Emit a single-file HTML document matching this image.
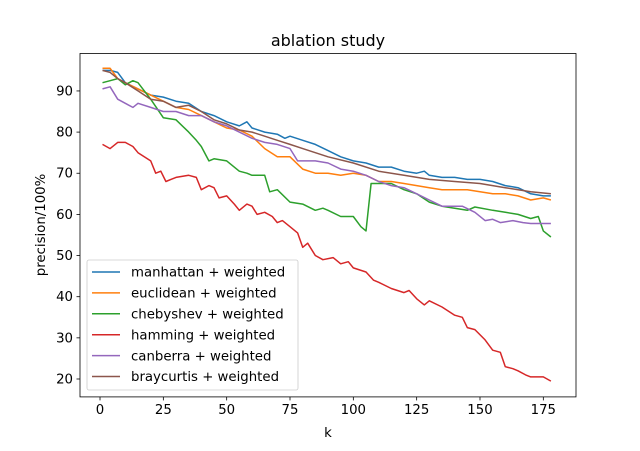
<!DOCTYPE html>
<html><head><meta charset="utf-8"><style>
body{margin:0;background:#fff}
svg text{font-family:"DejaVu Sans","Liberation Sans",sans-serif;fill:#000}
</style></head><body>
<svg id="chart" width="640" height="446" xmlns="http://www.w3.org/2000/svg">
<rect width="640" height="446" fill="#fff"/>
<g id="plot"></g>
</svg>
<script>
const xTicks=[0,25,50,75,100,125,150,175];
const yTicks=[20,30,40,50,60,70,80,90];
const seriesNames=["manhattan + weighted","euclidean + weighted","chebyshev + weighted","hamming + weighted","canberra + weighted","braycurtis + weighted"];
const colors=["#1f77b4","#ff7f0e","#2ca02c","#d62728","#9467bd","#8c564b"];
const kManhattan=[1,4,7,10,15,20,25,30,35,40,45,50,55,58,60,65,70,73,75,80,85,90,95,100,105,110,115,120,125,128,130,135,140,145,150,155,160,165,170,175,178];
const vManhattan=[95,95,94.5,92,90.5,89,88.5,87.5,87,85,84,82.5,81.5,82.5,81,80,79.5,78.5,79,78,77,75.5,74,73,72.5,71.5,71.5,70.5,70,70.5,69.5,69,69,68.5,68.5,68,67,66.5,65,64.5,64.5];
const kEuclidean=[1,4,7,10,15,20,25,30,35,40,45,50,55,60,65,70,75,80,85,90,95,100,105,110,115,120,125,130,135,140,145,150,155,160,165,170,175,178];
const vEuclidean=[95.5,95.5,93,92,90.5,89,87.5,86,85.5,84,82.5,81,80.5,79,76,74,74,71,70,70,69.5,70,69.5,68,68,67.5,67,66.5,66,66,66,65.5,65,65,64.5,63.5,64,63.5];
const kChebyshev=[1,4,7,10,13,15,20,25,30,35,38,40,43,45,50,55,58,60,65,67,70,75,80,85,88,90,95,100,103,105,107,110,115,120,125,130,135,140,145,148,155,160,165,170,173,175,178];
const vChebyshev=[92,92.5,93,91.5,92.5,92,88,83.5,83,80,78,76.5,73,73.5,73,70.5,70,69.5,69.5,65.5,66,63,62.5,61,61.5,61,59.5,59.5,57,56,67.5,67.5,67.5,66,65,63,62,61.5,61,61.8,61,60.5,60,59,59.5,56,54.5];
const kHamming=[1,4,7,10,13,15,20,22,24,26,28,30,35,38,40,43,45,47,50,53,55,58,60,62,65,68,70,72,75,78,80,82,85,88,92,95,98,100,105,108,110,115,120,122,125,128,130,135,140,143,145,148,152,155,158,160,163,165,168,170,173,175,178];
const vHamming=[77,76,77.5,77.5,76.5,75,73,70,70.5,68,68.5,69,69.5,69,66,67,66.5,64,64.5,62.5,61,62.5,62,60,60.5,59.5,58,58.5,57,55.5,52,53,50,49,49.5,48,48.5,47,46,44,43.5,42,41,41.5,39.5,38,39,37.5,35.5,35,32.5,32,29.5,27,26.5,23,22.5,22,21,20.5,20.5,20.5,19.5];
const kCanberra=[1,4,7,10,13,15,20,25,30,35,40,45,50,55,60,65,70,75,78,85,90,95,100,105,110,115,120,125,130,135,140,143,148,152,155,158,163,167,170,178];
const vCanberra=[90.5,91,88,87,86,87,86,85,85,84,84,82.5,81.5,80,78.5,77.5,77,76,73,73,72.5,71,70.5,69.5,68,67,66.5,65,63.5,62,62,62,60.5,58.5,58.8,58,58.5,58,57.8,57.8];
const kBraycurtis=[1,4,7,10,15,20,25,30,35,40,45,50,55,60,65,70,75,80,90,100,110,120,130,140,150,160,170,178];
const vBraycurtis=[95,94.5,93,92,90,88,87.5,86,86.5,85,83,82,80.5,80,79,78,77,76,74,72.5,70.5,69.5,68.5,68,67.5,66.5,65.5,65];
const allK=[kManhattan,kEuclidean,kChebyshev,kHamming,kCanberra,kBraycurtis];
const allV=[vManhattan,vEuclidean,vChebyshev,vHamming,vCanberra,vBraycurtis];

const L=80,R=576,T=53.5,B=396.9;
const xMin=-7.9,xMax=187.9,yMin=15.65,yMax=99.1;
const sx=v=>L+(v-xMin)/(xMax-xMin)*(R-L);
const sy=v=>B-(v-yMin)/(yMax-yMin)*(B-T);
const NS="http://www.w3.org/2000/svg";
const g=document.getElementById('plot');
function mk(t,a,p){const e=document.createElementNS(NS,t);for(const k in a)e.setAttribute(k,a[k]);(p||g).appendChild(e);return e;}

// series
allK.forEach((ks,i)=>{
  const d=ks.map((k,j)=>(j?'L':'M')+sx(k).toFixed(1)+' '+sy(allV[i][j]).toFixed(1)).join(' ');
  const p=mk('path',{d:d,fill:'none',stroke:colors[i],'stroke-width':1.5,'stroke-linejoin':'round'});
  
  
});
// frame
const fr=mk('rect',{x:L,y:T,width:R-L,height:B-T,fill:'none',stroke:'#000','stroke-width':0.8});


// x ticks
xTicks.forEach(t=>{
  const x=sx(t);
  mk('line',{x1:x,x2:x,y1:B,y2:B+3.5,stroke:'#000','stroke-width':0.8});
  const tx=mk('text',{x:x,y:B+17,'text-anchor':'middle','font-size':'13.3'});
  tx.textContent=t;
  
  
});
yTicks.forEach(t=>{
  const y=sy(t);
  mk('line',{x1:L-3.5,x2:L,y1:y,y2:y,stroke:'#000','stroke-width':0.8});
  const tx=mk('text',{x:L-7,y:y+4.5,'text-anchor':'end','font-size':'13.3'});
  tx.textContent=t;
  
  
});
const title=mk('text',{x:328,y:46,'text-anchor':'middle','font-size':'16'});
title.textContent='ablation study';


const xl=mk('text',{x:328,y:437,'text-anchor':'middle','font-size':'13.3'});
xl.textContent='k';


const yl=mk('text',{x:0,y:0,'text-anchor':'middle','font-size':'13.3',transform:'translate(45,225) rotate(-90)'});
yl.textContent='precision/100%';


// legend
const lg=mk('g',{});


mk('rect',{x:87,y:260,width:211,height:130,rx:2,fill:'#fff','fill-opacity':0.8,stroke:'#ccc','stroke-width':0.8},lg);
seriesNames.forEach((n,i)=>{
  const y=272+i*20.9;
  mk('line',{x1:92,x2:120,y1:y,y2:y,stroke:colors[i],'stroke-width':1.5},lg);
  const t=mk('text',{x:131,y:y+4.7,'font-size':'13.3'},lg);
  t.textContent=n;
  
  
});
</script>
</body></html>
